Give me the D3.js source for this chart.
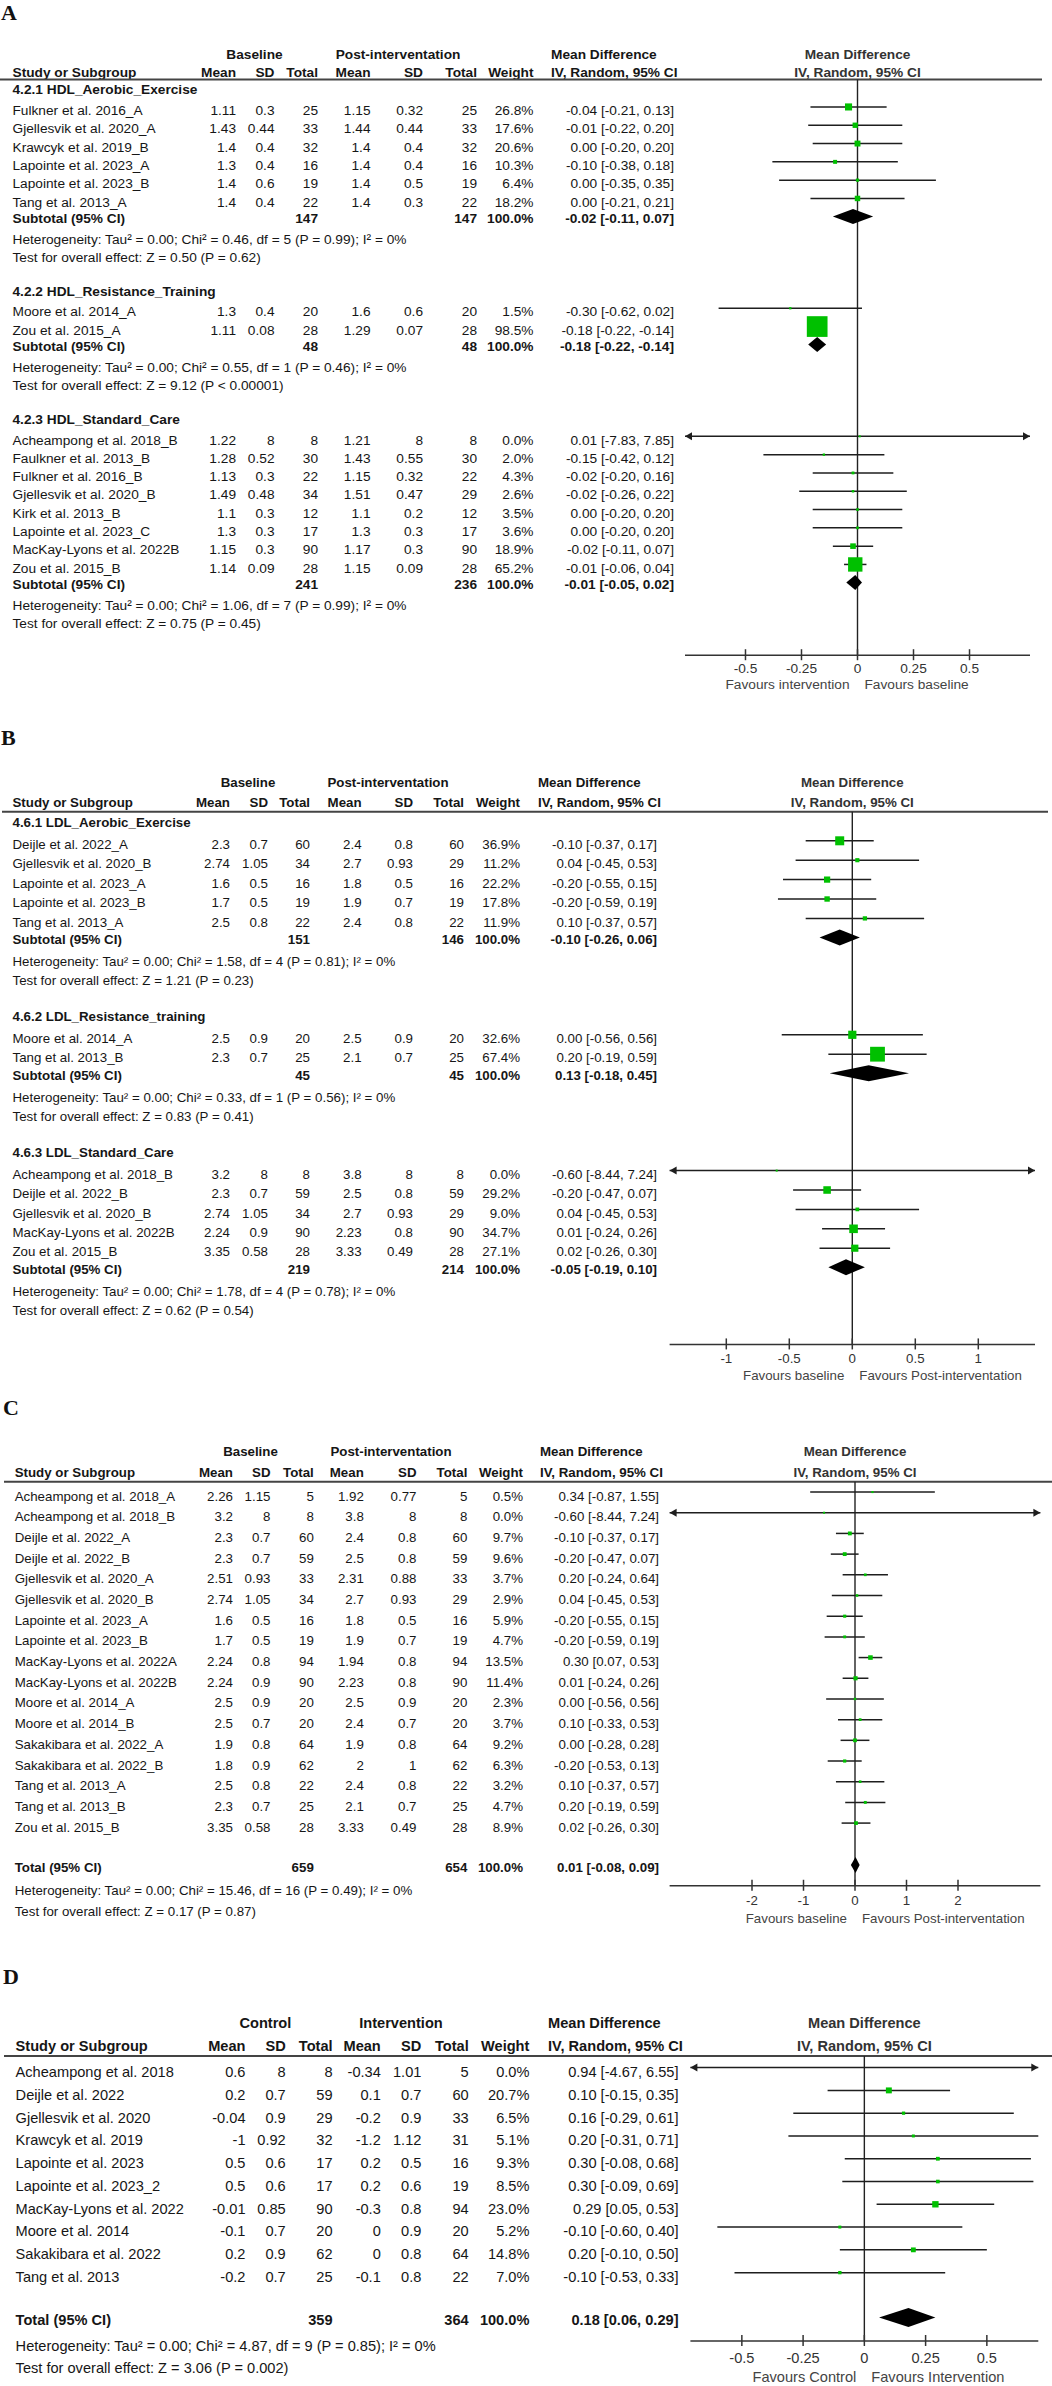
<!DOCTYPE html>
<html><head><meta charset="utf-8">
<script src="https://cdn.jsdelivr.net/npm/d3@7"></script>
<style>html,body{margin:0;padding:0;background:#fff}svg{display:block}</style>
</head><body>
<svg id="chart" width="1052" height="2386"></svg>
<script>
// ================= DATA =================
// row: [study, groupIndex, mean1, sd1, total1, mean2, sd2, total2, weight%, MD, lower, upper]
const A_groups = ["4.2.1 HDL_Aerobic_Exercise", "4.2.2 HDL_Resistance_Training", "4.2.3 HDL_Standard_Care"];
const A_arms = ["Baseline", "Post-interventation"];
const A_rows = [
  ["Fulkner et al. 2016_A", 0, 1.11, 0.3, 25, 1.15, 0.32, 25, 26.8, -0.04, -0.21, 0.13],
  ["Gjellesvik et al. 2020_A", 0, 1.43, 0.44, 33, 1.44, 0.44, 33, 17.6, -0.01, -0.22, 0.20],
  ["Krawcyk et al. 2019_B", 0, 1.4, 0.4, 32, 1.4, 0.4, 32, 20.6, 0.00, -0.20, 0.20],
  ["Lapointe et al. 2023_A", 0, 1.3, 0.4, 16, 1.4, 0.4, 16, 10.3, -0.10, -0.38, 0.18],
  ["Lapointe et al. 2023_B", 0, 1.4, 0.6, 19, 1.4, 0.5, 19, 6.4, 0.00, -0.35, 0.35],
  ["Tang et al. 2013_A", 0, 1.4, 0.4, 22, 1.4, 0.3, 22, 18.2, 0.00, -0.21, 0.21],
  ["Moore et al. 2014_A", 1, 1.3, 0.4, 20, 1.6, 0.6, 20, 1.5, -0.30, -0.62, 0.02],
  ["Zou et al. 2015_A", 1, 1.11, 0.08, 28, 1.29, 0.07, 28, 98.5, -0.18, -0.22, -0.14],
  ["Acheampong et al. 2018_B", 2, 1.22, 8, 8, 1.21, 8, 8, 0.0, 0.01, -7.83, 7.85],
  ["Faulkner et al. 2013_B", 2, 1.28, 0.52, 30, 1.43, 0.55, 30, 2.0, -0.15, -0.42, 0.12],
  ["Fulkner et al. 2016_B", 2, 1.13, 0.3, 22, 1.15, 0.32, 22, 4.3, -0.02, -0.20, 0.16],
  ["Gjellesvik et al. 2020_B", 2, 1.49, 0.48, 34, 1.51, 0.47, 29, 2.6, -0.02, -0.26, 0.22],
  ["Kirk et al. 2013_B", 2, 1.1, 0.3, 12, 1.1, 0.2, 12, 3.5, 0.00, -0.20, 0.20],
  ["Lapointe et al. 2023_C", 2, 1.3, 0.3, 17, 1.3, 0.3, 17, 3.6, 0.00, -0.20, 0.20],
  ["MacKay-Lyons et al. 2022B", 2, 1.15, 0.3, 90, 1.17, 0.3, 90, 18.9, -0.02, -0.11, 0.07],
  ["Zou et al. 2015_B", 2, 1.14, 0.09, 28, 1.15, 0.09, 28, 65.2, -0.01, -0.06, 0.04]
];
// subtotal: [total1, total2, MD, lower, upper]
const A_subs = [[147, 147, -0.02, -0.11, 0.07], [48, 48, -0.18, -0.22, -0.14], [241, 236, -0.01, -0.05, 0.02]];
const A_het = [
  "Heterogeneity: Tau² = 0.00; Chi² = 0.46, df = 5 (P = 0.99); I² = 0%",
  "Heterogeneity: Tau² = 0.00; Chi² = 0.55, df = 1 (P = 0.46); I² = 0%",
  "Heterogeneity: Tau² = 0.00; Chi² = 1.06, df = 7 (P = 0.99); I² = 0%"];
const A_z = ["Test for overall effect: Z = 0.50 (P = 0.62)", "Test for overall effect: Z = 9.12 (P < 0.00001)", "Test for overall effect: Z = 0.75 (P = 0.45)"];
const A_ticks = [-0.5, -0.25, 0, 0.25, 0.5];
const A_favours = ["Favours intervention", "Favours baseline"];

const B_groups = ["4.6.1 LDL_Aerobic_Exercise", "4.6.2 LDL_Resistance_training", "4.6.3 LDL_Standard_Care"];
const B_arms = ["Baseline", "Post-interventation"];
const B_rows = [
  ["Deijle et al. 2022_A", 0, 2.3, 0.7, 60, 2.4, 0.8, 60, 36.9, -0.10, -0.37, 0.17],
  ["Gjellesvik et al. 2020_B", 0, 2.74, 1.05, 34, 2.7, 0.93, 29, 11.2, 0.04, -0.45, 0.53],
  ["Lapointe et al. 2023_A", 0, 1.6, 0.5, 16, 1.8, 0.5, 16, 22.2, -0.20, -0.55, 0.15],
  ["Lapointe et al. 2023_B", 0, 1.7, 0.5, 19, 1.9, 0.7, 19, 17.8, -0.20, -0.59, 0.19],
  ["Tang et al. 2013_A", 0, 2.5, 0.8, 22, 2.4, 0.8, 22, 11.9, 0.10, -0.37, 0.57],
  ["Moore et al. 2014_A", 1, 2.5, 0.9, 20, 2.5, 0.9, 20, 32.6, 0.00, -0.56, 0.56],
  ["Tang et al. 2013_B", 1, 2.3, 0.7, 25, 2.1, 0.7, 25, 67.4, 0.20, -0.19, 0.59],
  ["Acheampong et al. 2018_B", 2, 3.2, 8, 8, 3.8, 8, 8, 0.0, -0.60, -8.44, 7.24],
  ["Deijle et al. 2022_B", 2, 2.3, 0.7, 59, 2.5, 0.8, 59, 29.2, -0.20, -0.47, 0.07],
  ["Gjellesvik et al. 2020_B", 2, 2.74, 1.05, 34, 2.7, 0.93, 29, 9.0, 0.04, -0.45, 0.53],
  ["MacKay-Lyons et al. 2022B", 2, 2.24, 0.9, 90, 2.23, 0.8, 90, 34.7, 0.01, -0.24, 0.26],
  ["Zou et al. 2015_B", 2, 3.35, 0.58, 28, 3.33, 0.49, 28, 27.1, 0.02, -0.26, 0.30]
];
const B_subs = [[151, 146, -0.10, -0.26, 0.06], [45, 45, 0.13, -0.18, 0.45], [219, 214, -0.05, -0.19, 0.10]];
const B_het = [
  "Heterogeneity: Tau² = 0.00; Chi² = 1.58, df = 4 (P = 0.81); I² = 0%",
  "Heterogeneity: Tau² = 0.00; Chi² = 0.33, df = 1 (P = 0.56); I² = 0%",
  "Heterogeneity: Tau² = 0.00; Chi² = 1.78, df = 4 (P = 0.78); I² = 0%"];
const B_z = ["Test for overall effect: Z = 1.21 (P = 0.23)", "Test for overall effect: Z = 0.83 (P = 0.41)", "Test for overall effect: Z = 0.62 (P = 0.54)"];
const B_ticks = [-1, -0.5, 0, 0.5, 1];
const B_favours = ["Favours baseline", "Favours Post-interventation"];

const C_arms = ["Baseline", "Post-interventation"];
const C_rows = [
  ["Acheampong et al. 2018_A", 0, 2.26, 1.15, 5, 1.92, 0.77, 5, 0.5, 0.34, -0.87, 1.55],
  ["Acheampong et al. 2018_B", 0, 3.2, 8, 8, 3.8, 8, 8, 0.0, -0.60, -8.44, 7.24],
  ["Deijle et al. 2022_A", 0, 2.3, 0.7, 60, 2.4, 0.8, 60, 9.7, -0.10, -0.37, 0.17],
  ["Deijle et al. 2022_B", 0, 2.3, 0.7, 59, 2.5, 0.8, 59, 9.6, -0.20, -0.47, 0.07],
  ["Gjellesvik et al. 2020_A", 0, 2.51, 0.93, 33, 2.31, 0.88, 33, 3.7, 0.20, -0.24, 0.64],
  ["Gjellesvik et al. 2020_B", 0, 2.74, 1.05, 34, 2.7, 0.93, 29, 2.9, 0.04, -0.45, 0.53],
  ["Lapointe et al. 2023_A", 0, 1.6, 0.5, 16, 1.8, 0.5, 16, 5.9, -0.20, -0.55, 0.15],
  ["Lapointe et al. 2023_B", 0, 1.7, 0.5, 19, 1.9, 0.7, 19, 4.7, -0.20, -0.59, 0.19],
  ["MacKay-Lyons et al. 2022A", 0, 2.24, 0.8, 94, 1.94, 0.8, 94, 13.5, 0.30, 0.07, 0.53],
  ["MacKay-Lyons et al. 2022B", 0, 2.24, 0.9, 90, 2.23, 0.8, 90, 11.4, 0.01, -0.24, 0.26],
  ["Moore et al. 2014_A", 0, 2.5, 0.9, 20, 2.5, 0.9, 20, 2.3, 0.00, -0.56, 0.56],
  ["Moore et al. 2014_B", 0, 2.5, 0.7, 20, 2.4, 0.7, 20, 3.7, 0.10, -0.33, 0.53],
  ["Sakakibara et al. 2022_A", 0, 1.9, 0.8, 64, 1.9, 0.8, 64, 9.2, 0.00, -0.28, 0.28],
  ["Sakakibara et al. 2022_B", 0, 1.8, 0.9, 62, 2, 1, 62, 6.3, -0.20, -0.53, 0.13],
  ["Tang et al. 2013_A", 0, 2.5, 0.8, 22, 2.4, 0.8, 22, 3.2, 0.10, -0.37, 0.57],
  ["Tang et al. 2013_B", 0, 2.3, 0.7, 25, 2.1, 0.7, 25, 4.7, 0.20, -0.19, 0.59],
  ["Zou et al. 2015_B", 0, 3.35, 0.58, 28, 3.33, 0.49, 28, 8.9, 0.02, -0.26, 0.30]
];
const C_subs = [[659, 654, 0.01, -0.08, 0.09]];
const C_het = ["Heterogeneity: Tau² = 0.00; Chi² = 15.46, df = 16 (P = 0.49); I² = 0%"];
const C_z = ["Test for overall effect: Z = 0.17 (P = 0.87)"];
const C_ticks = [-2, -1, 0, 1, 2];
const C_favours = ["Favours baseline", "Favours Post-interventation"];

const D_arms = ["Control", "Intervention"];
const D_rows = [
  ["Acheampong et al. 2018", 0, 0.6, 8, 8, -0.34, 1.01, 5, 0.0, 0.94, -4.67, 6.55],
  ["Deijle et al. 2022", 0, 0.2, 0.7, 59, 0.1, 0.7, 60, 20.7, 0.10, -0.15, 0.35],
  ["Gjellesvik et al. 2020", 0, -0.04, 0.9, 29, -0.2, 0.9, 33, 6.5, 0.16, -0.29, 0.61],
  ["Krawcyk et al. 2019", 0, -1, 0.92, 32, -1.2, 1.12, 31, 5.1, 0.20, -0.31, 0.71],
  ["Lapointe et al. 2023", 0, 0.5, 0.6, 17, 0.2, 0.5, 16, 9.3, 0.30, -0.08, 0.68],
  ["Lapointe et al. 2023_2", 0, 0.5, 0.6, 17, 0.2, 0.6, 19, 8.5, 0.30, -0.09, 0.69],
  ["MacKay-Lyons et al. 2022", 0, -0.01, 0.85, 90, -0.3, 0.8, 94, 23.0, 0.29, 0.05, 0.53],
  ["Moore et al. 2014", 0, -0.1, 0.7, 20, 0, 0.9, 20, 5.2, -0.10, -0.60, 0.40],
  ["Sakakibara et al. 2022", 0, 0.2, 0.9, 62, 0, 0.8, 64, 14.8, 0.20, -0.10, 0.50],
  ["Tang et al. 2013", 0, -0.2, 0.7, 25, -0.1, 0.8, 22, 7.0, -0.10, -0.53, 0.33]
];
const D_subs = [[359, 364, 0.18, 0.06, 0.29]];
const D_het = ["Heterogeneity: Tau² = 0.00; Chi² = 4.87, df = 9 (P = 0.85); I² = 0%"];
const D_z = ["Test for overall effect: Z = 3.06 (P = 0.002)"];
const D_ticks = [-0.5, -0.25, 0, 0.25, 0.5];
const D_favours = ["Favours Control", "Favours Intervention"];

// ================= LAYOUT (positions / sizes only) =================
const grouped = {gh: 0.55, row: 1.13, sub: 0.88, het: 1.14, test: 0.99, ngh: 1.86, axis: 1.77};
const LA = Object.assign({letter: "A", letterX: 1, letterY: 20, line: 79.5, h1: 25.5, h2: 7.5, pitch: 18.3, font: 13.7,
  lineX: [0, 1042], cols: {name: 12.5, m1: 236, sd1: 274.5, n1: 318, m2: 370.5, sd2: 423, n2: 477, w: 533.5, ci: 674, md: 551, g1: 254.5, g2: 398},
  range: [685, 1030], domain: [-0.77, 0.77], dh: 15}, grouped);
const LB = Object.assign({letter: "B", letterX: 1, letterY: 745, line: 811.7, h1: 29, h2: 9.4, pitch: 19.4, font: 13.3,
  lineX: [2, 1048], cols: {name: 12.5, m1: 230, sd1: 268, n1: 310, m2: 361.6, sd2: 413, n2: 464, w: 520, ci: 657, md: 538, g1: 248, g2: 388},
  range: [669.6, 1035], domain: [-1.45, 1.45], dh: 16}, grouped);
const LC = {letter: "C", letterX: 3, letterY: 1415, line: 1481.7, h1: 30, h2: 9.4, pitch: 20.69, font: 13.3,
  lineX: [4, 1052], cols: {name: 14.7, m1: 233, sd1: 270.5, n1: 313.8, m2: 363.8, sd2: 416.5, n2: 467.4, w: 523, ci: 659, md: 540, g1: 250.5, g2: 391},
  range: [669.6, 1040.4], domain: [-3.6, 3.6], dh: 16, first: 0.68, sub: 1.93, het: 1.13, test: 1.0, axis: 0.92};
const LD = {letter: "D", letterX: 3, letterY: 1984, line: 2056, h1: 33.3, h2: 10, pitch: 22.78, font: 14.6,
  lineX: [4, 1052], cols: {name: 15.6, m1: 245.5, sd1: 285.7, n1: 332.6, m2: 380.8, sd2: 421.4, n2: 468.7, w: 529.4, ci: 678.5, md: 548, g1: 265.4, g2: 401},
  range: [690.4, 1038.3], domain: [-0.71, 0.71], dh: 19, first: 0.69, sub: 1.87, het: 1.17, test: 0.95, axis: 0.95};

// ================= DRAW =================
const svg = d3.select("#chart");
svg.append("rect").attr("width", 1052).attr("height", 2386).attr("fill", "#fff");
const SANS = "'Liberation Sans', Arial, Helvetica, sans-serif";
const f2 = v => v.toFixed(2);
const ciText = (m, l, u) => `${f2(m)} [${f2(l)}, ${f2(u)}]`;
const sqSize = d3.scaleLinear().domain([0, 100]).range([2, 21]);

function drawPanel(P, L) {
  const g = svg.append("g");
  const p = L.pitch, fs = L.font, C = L.cols;
  const T = (x, y, s, anchor, bold, color) => g.append("text")
    .attr("x", x).attr("y", y + 0.36 * fs)
    .attr("text-anchor", anchor || "start")
    .attr("font-family", SANS).attr("font-size", fs)
    .attr("font-weight", bold ? "bold" : "normal")
    .attr("fill", color || "#161616").text(s);

  g.append("text").attr("x", L.letterX).attr("y", L.letterY)
    .attr("font-family", "'Liberation Serif', 'Times New Roman', serif")
    .attr("font-weight", "bold").attr("font-size", 22).attr("fill", "#111").text(L.letter);

  const x = d3.scaleLinear().domain(L.domain).range(L.range);
  const yH1 = L.line - L.h1, yH2 = L.line - L.h2;
  T(C.g1, yH1, P.arms[0], "middle", true);
  T(C.g2, yH1, P.arms[1], "middle", true);
  T(C.md, yH1, "Mean Difference", "start", true);
  T(C.name, yH2, "Study or Subgroup", "start", true);
  const keys = ["m1", "sd1", "n1", "m2", "sd2", "n2", "w"];
  const heads = ["Mean", "SD", "Total", "Mean", "SD", "Total", "Weight"];
  keys.forEach((k, i) => T(C[k], yH2, heads[i], "end", true));
  T(C.md, yH2, "IV, Random, 95% CI", "start", true);
  T(x(0), yH1, "Mean Difference", "middle", true, "#333");
  T(x(0), yH2, "IV, Random, 95% CI", "middle", true, "#333");
  g.append("line").attr("x1", L.lineX[0]).attr("x2", L.lineX[1]).attr("y1", L.line).attr("y2", L.line)
    .attr("stroke", "#444").attr("stroke-width", 2);

  const [d0, d1] = L.domain;
  const eps = (d1 - d0) * 0.01;
  const marks = g.append("g");
  function drawRow(r, y) {
    T(C.name, y, r[0]);
    keys.slice(0, 6).forEach((k, i) => T(C[k], y, String(r[2 + i]), "end"));
    T(C.w, y, r[8].toFixed(1) + "%", "end");
    T(C.ci, y, ciText(r[9], r[10], r[11]), "end");
    const ym = y - 0.18 * p;
    const lo = Math.max(r[10], d0), hi = Math.min(r[11], d1);
    marks.append("line").attr("x1", x(lo)).attr("x2", x(hi)).attr("y1", ym).attr("y2", ym)
      .attr("stroke", "#1e1e1e").attr("stroke-width", 1.5);
    if (r[10] < d0 - eps) {
      const xe = x(d0);
      marks.append("path").attr("d", `M${xe},${ym}L${xe + 7},${ym - 4}L${xe + 7},${ym + 4}Z`).attr("fill", "#1e1e1e");
    }
    if (r[11] > d1 + eps) {
      const xe = x(d1);
      marks.append("path").attr("d", `M${xe},${ym}L${xe - 7},${ym - 4}L${xe - 7},${ym + 4}Z`).attr("fill", "#1e1e1e");
    }
    if (r[9] >= d0 && r[9] <= d1) {
      const s = sqSize(r[8]);
      marks.append("rect").attr("x", x(r[9]) - s / 2).attr("y", ym - s / 2).attr("width", s).attr("height", s)
        .attr("fill", "#00c000");
    }
  }
  function drawSub(s, y, label) {
    T(C.name, y, label, "start", true);
    T(C.n1, y, String(s[0]), "end", true);
    T(C.n2, y, String(s[1]), "end", true);
    T(C.w, y, "100.0%", "end", true);
    T(C.ci, y, ciText(s[2], s[3], s[4]), "end", true);
    const ym = y - 0.08 * p, h = L.dh / 2;
    marks.append("path")
      .attr("d", `M${x(s[3])},${ym}L${x(s[2])},${ym - h}L${x(s[4])},${ym}L${x(s[2])},${ym + h}Z`)
      .attr("fill", "#000");
  }

  let y = L.line, lastTest = 0, lastSub = 0;
  const nG = P.groups ? P.groups.length : 1;
  for (let gi = 0; gi < nG; gi++) {
    const rows = P.rows.filter(r => r[1] === gi);
    if (P.groups) {
      y += (gi === 0 ? L.gh : L.ngh) * p;
      T(C.name, y, P.groups[gi], "start", true);
      y += L.row * p;
    } else {
      y += L.first * p;
    }
    rows.forEach((r, i) => { if (i > 0) y += p; drawRow(r, y); });
    y += L.sub * p;
    drawSub(P.subs[gi], y, P.groups ? "Subtotal (95% CI)" : "Total (95% CI)");
    lastSub = y;
    y += L.het * p; T(C.name, y, P.het[gi]);
    y += L.test * p; T(C.name, y, P.z[gi]);
    lastTest = y;
  }
  const axisY = P.groups ? lastTest + L.axis * p : lastSub + L.axis * p;

  // zero line
  marks.insert("line", ":first-child").attr("x1", x(0)).attr("x2", x(0)).attr("y1", L.line).attr("y2", axisY)
    .attr("stroke", "#222").attr("stroke-width", 1.4);
  // axis
  g.append("line").attr("x1", L.range[0]).attr("x2", L.range[1]).attr("y1", axisY).attr("y2", axisY)
    .attr("stroke", "#333").attr("stroke-width", 1.5);
  P.ticks.forEach(t => {
    g.append("line").attr("x1", x(t)).attr("x2", x(t)).attr("y1", axisY - 6).attr("y2", axisY + 5)
      .attr("stroke", "#333").attr("stroke-width", 1.5);
    T(x(t), axisY + 0.72 * p, String(t), "middle", false, "#333");
  });
  T(x(0) - 8, axisY + 1.58 * p, P.favours[0], "end", false, "#444");
  T(x(0) + 7, axisY + 1.58 * p, P.favours[1], "start", false, "#444");
}

drawPanel({groups: A_groups, arms: A_arms, rows: A_rows, subs: A_subs, het: A_het, z: A_z, ticks: A_ticks, favours: A_favours}, LA);
drawPanel({groups: B_groups, arms: B_arms, rows: B_rows, subs: B_subs, het: B_het, z: B_z, ticks: B_ticks, favours: B_favours}, LB);
drawPanel({groups: null, arms: C_arms, rows: C_rows, subs: C_subs, het: C_het, z: C_z, ticks: C_ticks, favours: C_favours}, LC);
drawPanel({groups: null, arms: D_arms, rows: D_rows, subs: D_subs, het: D_het, z: D_z, ticks: D_ticks, favours: D_favours}, LD);
</script>
</body></html>
